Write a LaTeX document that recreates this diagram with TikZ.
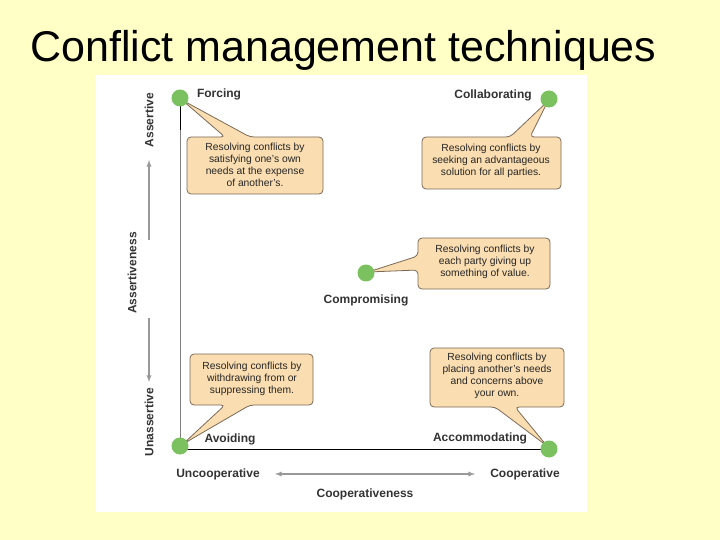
\documentclass[tikz,border=0pt]{standalone}
\usepackage{fontspec}
\setmainfont{Liberation Sans}
\begin{document}
\begin{tikzpicture}[x=1pt,y=-1pt,
  box/.style={fill=boxfill,draw=boxline,line width=0.8pt},
  txt/.style={font=\fontsize{10.3}{11.8}\selectfont,align=center,text=black!85},
  lab/.style={font=\fontsize{12}{14}\selectfont\bfseries,text=black!80},
  dot/.style={circle,fill=dotg,minimum size=17pt,inner sep=0pt}]
\definecolor{bg}{HTML}{FFFFC6}
\definecolor{boxfill}{HTML}{FADDB0}
\definecolor{boxline}{HTML}{7A6A58}
\definecolor{dotg}{HTML}{7CC160}
\useasboundingbox (0,0) rectangle (720,540);
\fill[bg] (0,0) rectangle (720,540);
\fill[white] (95,75) rectangle (587,512);
\node[font=\fontsize{43}{45}\selectfont,anchor=west,inner sep=0pt] (title) at (30,50) {Conflict management techniques};
% axes
\draw[gray,line width=1pt] (180,98) -- (180,446);
\draw[black,line width=1pt] (180,98) -- (180,130);
\draw[black,line width=0.8pt] (180,449) -- (549,449);
\draw[gray!80,line width=1.3pt,-latex] (149,240) -- (149,160);
\draw[gray!80,line width=1.3pt,-latex] (149,318) -- (149,382);
\draw[gray!80,line width=1.3pt,latex-latex] (275,474) -- (475,474);
\node[lab,rotate=90] (as) at (149,120) {Assertive};
\node[lab,rotate=90] (ass) at (132,273) {Assertiveness};
\node[lab,rotate=90] (un) at (149,422) {Unassertive};
\node[lab] (unc) at (218,474) {Uncooperative};
\node[lab] (coo) at (525,474) {Cooperative};
\node[lab] (coos) at (365,494) {Cooperativeness};
% callouts
\draw[box,rounded corners=4pt] (187,137) -- (225,137) -- (182,100) -- (250,137) -- (323,137) -- (323,194) -- (187,194) -- cycle;
\draw[box,rounded corners=4pt] (422,137) -- (510,137) -- (548,101) -- (530,137) -- (561,137) -- (561,189) -- (422,189) -- cycle;
\draw[box,rounded corners=4pt] (418,238) -- (550,238) -- (550,289) -- (418,289) -- (418,270) -- (368,272) -- (418,256) -- cycle;
\draw[box,rounded corners=4pt] (190,354) -- (313,354) -- (313,405) -- (250,405) -- (183,444) -- (225,405) -- (190,405) -- cycle;
\draw[box,rounded corners=4pt] (430,348) -- (564,348) -- (564,407) -- (515,407) -- (547,446) -- (495,407) -- (430,407) -- cycle;
\node[txt] (t1) at (255,165) {Resolving conflicts by\\satisfying one's own\\needs at the expense\\of another's.};
\node[txt] (t2) at (491,161) {Resolving conflicts by\\seeking an advantageous\\solution for all parties.};
\node[txt] (t3) at (485,262) {Resolving conflicts by\\each party giving up\\something of value.};
\node[txt] (t4) at (252,379) {Resolving conflicts by\\withdrawing from or\\suppressing them.};
\node[txt] (t5) at (497,376) {Resolving conflicts by\\placing another's needs\\and concerns above\\your own.};
% dots
\node[dot] (forc) at (180,98) {};
\node[dot] (coll) at (549,99) {};
\node[dot] (comp) at (366,273) {};
\node[dot] (avoi) at (180,446) {};
\node[dot] (acco) at (549,449) {};
\node[lab] (lf) at (219,94) {Forcing};
\node[lab] (lc) at (493,95) {Collaborating};
\node[lab] (lm) at (366,300) {Compromising};
\node[lab] (la) at (230,439) {Avoiding};
\node[lab] (lac) at (480,438) {Accommodating};
\end{tikzpicture}
\end{document}
